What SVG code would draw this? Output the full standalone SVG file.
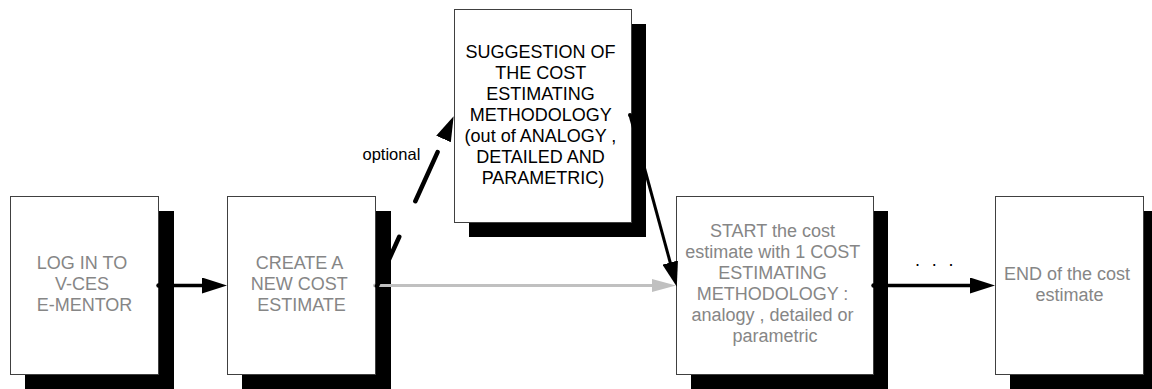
<svg xmlns="http://www.w3.org/2000/svg" width="1152" height="389" viewBox="0 0 1152 389">
  <style>
    .shadow { fill: #000; }
    .box { fill: #fff; stroke: #404040; stroke-width: 1; }
    .label { font-family: "Liberation Sans", Arial, sans-serif; font-size: 18px; text-anchor: middle; }
    .muted { fill: #868686; }
    .dark { fill: #000; }
    .flow { fill: none; stroke: #000; stroke-width: 3.5; }
    .flow-thin { fill: none; stroke: #000; stroke-width: 3; }
    .flow-grey { fill: none; stroke: #c0c0c0; stroke-width: 3; }
    .flow-dash { fill: none; stroke: #000; stroke-width: 4.5; stroke-linecap: round; stroke-dasharray: 54 39; }
    .note { font-family: "Liberation Sans", Arial, sans-serif; font-size: 16.5px; fill: #000; }
  </style>
  <defs>
    <marker id="head" markerUnits="userSpaceOnUse" markerWidth="25" markerHeight="16" refX="1" refY="8" orient="auto">
      <path d="M0,0 L25,8 L0,16 z" fill="#000"/>
    </marker>
    <marker id="head-grey" markerUnits="userSpaceOnUse" markerWidth="24" markerHeight="14" refX="1" refY="7" orient="auto">
      <path d="M0,0.5 L24,7 L0,13.5 z" fill="#c0c0c0"/>
    </marker>
  </defs>

  <rect width="1152" height="389" fill="#fff"/>

  <!-- drop shadows -->
  <g id="shadows">
    <rect class="shadow" x="25" y="211" width="149" height="190"/>
    <rect class="shadow" x="242" y="211" width="149" height="190"/>
    <rect class="shadow" x="469" y="24" width="177" height="213"/>
    <rect class="shadow" x="691" y="211" width="197" height="190"/>
    <rect class="shadow" x="1010" y="211" width="148" height="190"/>
  </g>

  <g id="login">
    <rect class="box" x="10.5" y="196.5" width="148" height="178"/>
    <text class="label muted">
      <tspan x="84.5" y="269">LOG IN TO</tspan>
      <tspan x="84.5" y="290">V-CES</tspan>
      <tspan x="84.5" y="311">E-MENTOR</tspan>
    </text>
  </g>

  <g id="create">
    <rect class="box" x="227.5" y="196.5" width="148" height="178"/>
    <text class="label muted">
      <tspan x="301.5" y="269">CREATE A</tspan>
      <tspan x="301.5" y="290">NEW COST</tspan>
      <tspan x="301.5" y="311">ESTIMATE</tspan>
    </text>
  </g>

  <g id="suggestion">
    <rect class="box" x="454.5" y="9.5" width="177" height="213"/>
    <text class="label dark">
      <tspan x="543" y="57.5">SUGGESTION OF</tspan>
      <tspan x="543" y="78.5">THE COST</tspan>
      <tspan x="543" y="99.5">ESTIMATING</tspan>
      <tspan x="543" y="120.5">METHODOLOGY</tspan>
      <tspan x="543" y="141.5">(out of ANALOGY ,</tspan>
      <tspan x="543" y="162.5">DETAILED AND</tspan>
      <tspan x="543" y="183.5">PARAMETRIC)</tspan>
    </text>
  </g>

  <g id="start">
    <rect class="box" x="676.5" y="196.5" width="197" height="178"/>
    <text class="label muted">
      <tspan x="775" y="236.5">START the cost</tspan>
      <tspan x="775" y="257.5">estimate with 1 COST</tspan>
      <tspan x="775" y="278.5">ESTIMATING</tspan>
      <tspan x="775" y="299.5">METHODOLOGY :</tspan>
      <tspan x="775" y="320.5">analogy , detailed or</tspan>
      <tspan x="775" y="341.5">parametric</tspan>
    </text>
  </g>

  <g id="end">
    <rect class="box" x="995.5" y="196.5" width="148" height="178"/>
    <text class="label muted">
      <tspan x="1069.5" y="279.5">END of the cost</tspan>
      <tspan x="1069.5" y="300.5">estimate</tspan>
    </text>
  </g>

  <g id="connectors">
    <!-- log in -> create -->
    <circle cx="158.5" cy="285.5" r="2.2" fill="#000"/>
    <path class="flow" d="M158.5,285.5 L203,285.5" marker-end="url(#head)"/>
    <!-- create -> start (direct) -->
    <circle cx="375" cy="285.5" r="2" fill="#c0c0c0"/>
    <path class="flow-grey" d="M375,285.5 L653,285.5" marker-end="url(#head-grey)"/>
    <!-- create -> suggestion (optional) -->
    <path class="flow-dash" d="M377,286 L443.5,139"/>
    <path d="M443.5,139 L443.9,138.1" stroke="none" fill="none" marker-end="url(#head)"/>
    <text class="note" x="362.5" y="160">optional</text>
    <!-- suggestion -> start -->
    <circle cx="630" cy="115" r="2" fill="#000"/>
    <path class="flow-thin" d="M630,115 L670.5,263.5" marker-end="url(#head)"/>
    <!-- start -> end -->
    <circle cx="873.5" cy="285.5" r="2.2" fill="#000"/>
    <path class="flow" d="M873.5,285.5 L971,285.5" marker-end="url(#head)"/>
    <text class="label dark" x="915" y="266" style="text-anchor: start; letter-spacing: 3.35px;">. . .</text>
  </g>
</svg>
